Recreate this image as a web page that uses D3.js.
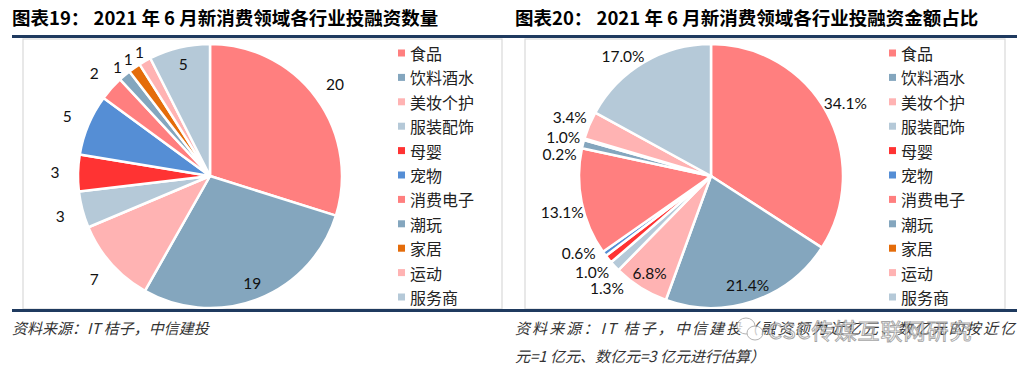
<!DOCTYPE html>
<html>
<head>
<meta charset="utf-8">
<script src="https://cdn.jsdelivr.net/npm/d3@7"></script>
<style>
  html, body { margin: 0; padding: 0; background: #fff; }
  svg { display: block; }
  .title { font-family: 'Noto Sans CJK SC', sans-serif; font-weight: bold; font-size: 18.5px; fill: #000; }
  .legend text { font-family: 'Noto Sans CJK SC', sans-serif; font-size: 16px; fill: #222; }
  .slice-label { font-family: Lato, 'Noto Sans', sans-serif; font-size: 15.5px; fill: #111; }
  .source { font-family: 'Noto Sans CJK SC', sans-serif; font-size: 15px; font-style: italic; fill: #333; }
</style>
</head>
<body>
<svg id="chart" width="1024" height="375"></svg>
<script>
// categories, same order in both charts and legends
const categories = ['食品', '饮料酒水', '美妆个护', '服装配饰', '母婴', '宠物', '消费电子', '潮玩', '家居', '运动', '服务商'];
// 图表19: number of deals
const dealCounts = [20, 19, 7, 3, 3, 5, 2, 1, 1, 1, 5];
// 图表20: share of funding amount (%)
const amountShares = [34.1, 21.4, 6.8, 1.3, 1.0, 0.6, 13.1, 1.0, 0.2, 3.4, 17.0];
const amountLabels = ['34.1%', '21.4%', '6.8%', '1.3%', '1.0%', '0.6%', '13.1%', '1.0%', '0.2%', '3.4%', '17.0%'];

const colors = ['#FF7F7F', '#84A6BE', '#FFB3B3', '#B5C9D8', '#FF3333', '#558ED5', '#FF7F7F', '#84A6BE', '#E46C0A', '#FFB3B3', '#B5C9D8'];

const svg = d3.select('#chart');
const color = d3.scaleOrdinal(categories, colors);
const R = 132;

// Excel-ish label placement tweaks (degrees / radius)
const leftInside = new Set(['饮料酒水', '服务商']);
const rightInside = new Set(['饮料酒水', '美妆个护']);
const rightNudge = { '服装配饰': -4, '宠物': 6, '消费电子': -2, '潮玩': 1, '家居': -8, '服务商': -5.6 };

const drawPanel = (opts) => {
  const { x0, title, values, labels, inside, nudge, cx, legendX } = opts;
  const g = svg.append('g');

  g.append('text')
    .attr('class', 'title')
    .attr('x', x0)
    .attr('y', 25)
    .text(title);

  // inner frame
  g.append('rect')
    .attr('x', opts.boxX)
    .attr('y', 39)
    .attr('width', opts.boxW)
    .attr('height', 270)
    .attr('fill', '#fff')
    .attr('stroke', '#D9D9D9')
    .attr('stroke-width', 1.2);

  const data = categories.map((c, i) => ({ name: c, value: values[i], label: labels[i] }));
  const pie = d3.pie().sort(null).value(d => d.value);
  const arc = d3.arc().innerRadius(0).outerRadius(R);
  const arcs = pie(data);

  const pieG = g.append('g').attr('transform', `translate(${cx},176)`);

  pieG.selectAll('path')
    .data(arcs)
    .join('path')
    .attr('d', arc)
    .attr('fill', d => color(d.data.name))
    .attr('stroke', '#fff')
    .attr('stroke-width', 2.5)
    .attr('stroke-linejoin', 'round');

  const pos = d => {
    const a = (d.startAngle + d.endAngle) / 2 + ((nudge[d.data.name] || 0) * Math.PI / 180);
    let r = 155;
    if (inside.has(d.data.name)) r = 115;
    else if (d.value === 1 && !opts.pct) r = 143;
    else if (opts.pct) r = d.data.name === '服务商' ? 149 : 153;
    return [r * Math.sin(a), -r * Math.cos(a)];
  };

  pieG.selectAll('text')
    .data(arcs)
    .join('text')
    .attr('class', 'slice-label')
    .attr('text-anchor', 'middle')
    .attr('dominant-baseline', 'central')
    .attr('x', d => pos(d)[0])
    .attr('y', d => pos(d)[1])
    .text(d => d.data.label);

  const legend = g.append('g')
    .attr('class', 'legend')
    .attr('transform', `translate(${legendX},53)`);

  const row = legend.selectAll('g')
    .data(categories)
    .join('g')
    .attr('transform', (d, i) => `translate(0,${i * 24.4})`);

  row.append('rect')
    .attr('x', 0)
    .attr('y', -3.5)
    .attr('width', 7)
    .attr('height', 7)
    .attr('fill', d => color(d));

  row.append('text')
    .attr('x', 12)
    .attr('y', 0)
    .attr('dominant-baseline', 'central')
    .text(d => d);
};

svg.append('rect').attr('width', 1024).attr('height', 375).attr('fill', '#fff');

drawPanel({
  x0: 12, title: '图表19： 2021 年 6 月新消费领域各行业投融资数量',
  values: dealCounts, labels: dealCounts.map(String),
  inside: leftInside, nudge: {}, cx: 210, legendX: 398,
  boxX: 23, boxW: 479, pct: false
});

drawPanel({
  x0: 515, title: '图表20： 2021 年 6 月新消费领域各行业投融资金额占比',
  values: amountShares, labels: amountLabels,
  inside: rightInside, nudge: rightNudge, cx: 711, legendX: 889,
  boxX: 525, boxW: 480, pct: true
});

// navy rules
svg.append('rect').attr('x', 12).attr('y', 35).attr('width', 1005).attr('height', 3).attr('fill', '#1F3A5F');
svg.append('rect').attr('x', 12).attr('y', 309).attr('width', 1005).attr('height', 3).attr('fill', '#1F3A5F');

// sources
svg.append('text').attr('class', 'source').attr('x', 12).attr('y', 334)
  .text('资料来源：IT 桔子，中信建投');
svg.append('text').attr('class', 'source').attr('x', 515).attr('y', 334)
  .attr('textLength', 500)
  .text('资料来源：IT 桔子，中信建投（融资额为近亿元、数亿元的按近亿');
svg.append('text').attr('class', 'source').attr('x', 515).attr('y', 362)
  .text('元=1 亿元、数亿元=3 亿元进行估算）');

// watermark over the source line
const wm = svg.append('g').attr('opacity', 0.75);
wm.append('ellipse').attr('cx', 746).attr('cy', 326).attr('rx', 9).attr('ry', 8)
  .attr('fill', '#fff').attr('stroke', '#999').attr('stroke-width', 1);
wm.append('ellipse').attr('cx', 755).attr('cy', 333).attr('rx', 8).attr('ry', 7)
  .attr('fill', '#fff').attr('stroke', '#999').attr('stroke-width', 1);
wm.append('text')
  .attr('x', 768).attr('y', 339)
  .attr('font-family', "'Noto Sans CJK SC', sans-serif")
  .attr('font-size', 22)
  .attr('letter-spacing', 1)
  .attr('fill', '#fff')
  .attr('stroke', '#888')
  .attr('stroke-width', 0.9)
  .text('CSC传媒互联网研究');
</script>
</body>
</html>
